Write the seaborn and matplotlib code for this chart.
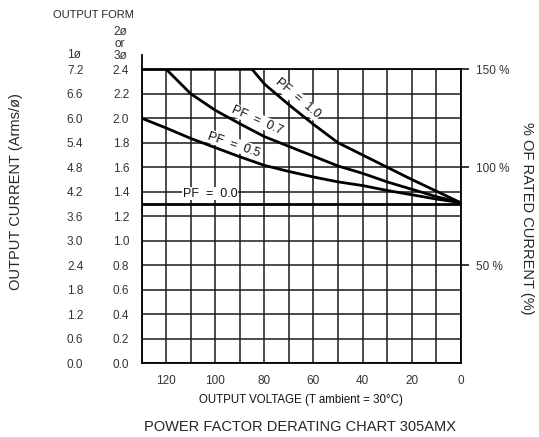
import matplotlib
matplotlib.use("Agg")
import matplotlib.pyplot as plt
import seaborn as sns
import pandas as pd

# output voltage (V) and output current (Arms/ø, 2ø/3ø scale) for each power factor
pf10_v = [130, 85, 80, 75, 70, 60, 50, 40, 30, 20, 10, 0]
pf10_i = [2.4, 2.4, 2.28, 2.195, 2.11, 1.95, 1.80, 1.70, 1.60, 1.50, 1.405, 1.31]

pf07_v = [130, 120, 110, 100, 90, 80, 70, 60, 50, 40, 30, 20, 10, 0]
pf07_i = [2.4, 2.4, 2.2, 2.065, 1.955, 1.85, 1.77, 1.69, 1.61, 1.55, 1.48, 1.42, 1.36, 1.31]

pf05_v = [130, 120, 110, 100, 90, 80, 70, 60, 50, 40, 30, 20, 10, 0]
pf05_i = [2.0, 1.92, 1.835, 1.76, 1.685, 1.615, 1.565, 1.52, 1.48, 1.45, 1.41, 1.375, 1.34, 1.31]

pf00_v = [130, 0]
pf00_i = [1.3, 1.3]

y_ticks = [0.0, 0.2, 0.4, 0.6, 0.8, 1.0, 1.2, 1.4, 1.6, 1.8, 2.0, 2.2, 2.4]
y1_ticks = [0.0, 0.6, 1.2, 1.8, 2.4, 3.0, 3.6, 4.2, 4.8, 5.4, 6.0, 6.6, 7.2]
pct_ticks = [50, 100, 150]
x_major = [0, 20, 40, 60, 80, 100, 120]
x_minor = [10, 30, 50, 70, 90, 110, 130]

curves = [("1.0", pf10_v, pf10_i), ("0.7", pf07_v, pf07_i),
          ("0.5", pf05_v, pf05_i), ("0.0", pf00_v, pf00_i)]
rows = []
for pf, vs, cs in curves:
    for v, c in zip(vs, cs):
        rows.append({"pf": pf, "voltage": v, "current": c})
df = pd.DataFrame(rows)

sns.set_theme(style="white")
plt.rcParams["font.family"] = ["Liberation Sans", "DejaVu Sans"]

W, H = 539, 437
fig = plt.figure(figsize=(W / 100, H / 100), dpi=100)
ax = fig.add_axes([141.7 / W, 1 - 363 / H, 319 / W, 293.7 / H])

sns.lineplot(data=df, x="voltage", y="current", hue="pf",
             palette=["black"] * 4, estimator=None, legend=False,
             linewidth=2.0, ax=ax, zorder=4)

ax.set_xlim(130, 0)
ax.set_ylim(0, 2.4)
ax.set_xticks(x_major)
ax.set_xticks(x_minor, minor=True)
ax.set_yticks(y_ticks)
ax.set_yticklabels([f"{t:.1f}" for t in y_ticks])
ax.grid(True, which="both", color="#1a1a1a", linewidth=1.1)
ax.set_axisbelow(True)
ax.tick_params(axis="both", which="both", length=0, labelsize=8.5,
               labelcolor="#333333")
ax.tick_params(axis="x", pad=9)
ax.tick_params(axis="y", pad=9)
for s in ax.spines.values():
    s.set_color("black")
    s.set_linewidth(1.3)
ax.spines["left"].set_bounds(0, 2.52)
ax.set_xlabel("OUTPUT VOLTAGE (T ambient = 30°C)", fontsize=8.3, labelpad=5,
              color="#111111")
ax.set_ylabel("")

# 1ø column of current labels
ax1 = ax.secondary_yaxis(-0.183, functions=(lambda y: y * 3, lambda y: y / 3))
ax1.set_yticks(y1_ticks)
ax1.set_yticklabels([f"{t:.1f}" for t in y1_ticks])
ax1.tick_params(length=0, pad=0, labelsize=8.5, labelcolor="#333333")
for s in ax1.spines.values():
    s.set_visible(False)

# % of rated current
ax2 = ax.secondary_yaxis("right", functions=(lambda y: y / 1.6 * 100,
                                              lambda p: p * 1.6 / 100))
ax2.set_yticks(pct_ticks)
ax2.set_yticklabels([f"{t:d} %" for t in pct_ticks])
ax2.tick_params(length=6, width=1.1, pad=5, direction="out",
                labelsize=8.5, labelcolor="#333333", color="black")
for s in ax2.spines.values():
    s.set_visible(False)

box = dict(facecolor="white", edgecolor="none", pad=0.5)
ax.text(66.4, 2.16, "PF  =  1.0", rotation=-40, fontsize=9, ha="center",
        va="center", bbox=box, zorder=5, color="#111111")
ax.text(82.8, 1.985, "PF  =  0.7", rotation=-24, fontsize=9, ha="center",
        va="center", bbox=box, zorder=5, color="#111111")
ax.text(92.3, 1.785, "PF  =  0.5", rotation=-19, fontsize=9, ha="center",
        va="center", bbox=box, zorder=5, color="#111111")
ax.text(102.1, 1.385, "PF  =  0.0", rotation=0, fontsize=9, ha="center",
        va="center", bbox=box, zorder=5, color="#111111")

# headers and side labels
fig.text(93 / W, 1 - 15 / H, "OUTPUT FORM", fontsize=8, ha="center", va="center")
fig.text(74 / W, 1 - 55 / H, "1ø", fontsize=8.5, ha="center", va="center",
         color="#333333")
fig.text(120 / W, 1 - 44 / H, "2ø\nor\n3ø", fontsize=8.5, ha="center",
         va="center", linespacing=1.05, color="#333333")
fig.text(16 / W, 1 - 192 / H, "OUTPUT CURRENT (Arms/ø)", fontsize=10.5,
         rotation=90, ha="center", va="center")
fig.text(527 / W, 1 - 218 / H, "% OF RATED CURRENT (%)", fontsize=10.5,
         rotation=270, ha="center", va="center")
fig.text(300 / W, 1 - 427 / H, "POWER FACTOR DERATING CHART 305AMX",
         fontsize=10.5, ha="center", va="center")

fig.savefig("out.png", dpi=100, facecolor="white")
